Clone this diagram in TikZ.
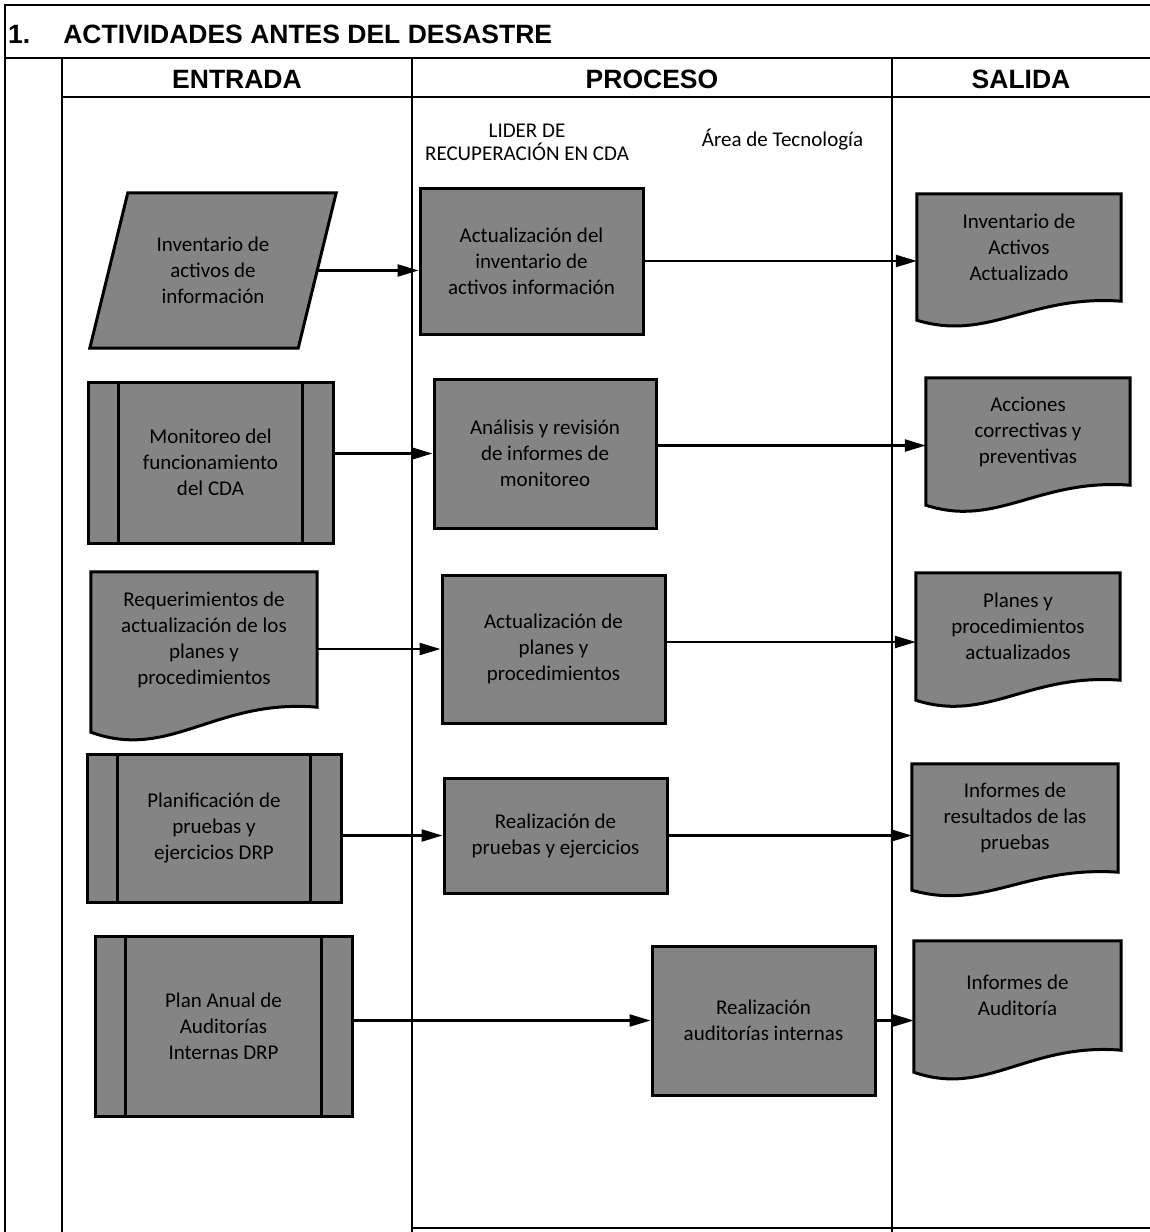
\documentclass[tikz,border=0pt]{standalone}
\usepackage{fontspec}
\setmainfont{Carlito}
\newfontfamily\headfont{Liberation Sans}
\usetikzlibrary{arrows.meta,calc}
\definecolor{shapegray}{RGB}{132,132,132}
\pgfdeclarelayer{back}
\pgfsetlayers{back,main}

\newcommand\boxfont{\fontsize{21}{26}\selectfont}
\newcommand\labelfont{\fontsize{21}{23}\selectfont}
\newcommand\bigheadfont{\headfont\bfseries\fontsize{26.5}{30}\selectfont}

\tikzset{
  frame/.style={line width=1.6pt, black, line cap=rect},
  stepbox/.style={draw, line width=3pt, fill=shapegray, align=center, inner sep=2pt, font=\boxfont},
  plain/.style={draw=none, align=center, inner sep=2pt, font=\boxfont},
  outline/.style={draw, line width=3pt, fill=shapegray, line join=miter},
  sidebar/.style={line width=3pt},
  flow/.style={line width=2.3pt, -{Triangle[length=21pt,width=12pt]}},
  heading/.style={anchor=base, font=\bigheadfont, inner sep=0pt},
}

% document symbol: flat top, wavy bottom; #2 = how far the left corner hangs below the right one
\newcommand\docoutline[2]{%
  \path[outline] (#1.north west) -- (#1.north east) -- (#1.south east)
    .. controls ($(#1.south west)!0.55!(#1.south east)+(0,-0.35*#2)$)
            and ($(#1.south west)!0.35!(#1.south east)+(0,2.15*#2)$)
    .. ($(#1.south west)+(0,#2)$) -- cycle;}

% predefined-process symbol: two inner vertical bars
\newcommand\sidebars[1]{%
  \draw[sidebar] ([xshift=32pt]#1.north west) -- ([xshift=32pt]#1.south west);
  \draw[sidebar] ([xshift=-32pt]#1.north east) -- ([xshift=-32pt]#1.south east);}

\begin{document}
\begin{tikzpicture}[x=1pt, y=-1pt]
\useasboundingbox (0,0) rectangle (1150,1232);

% ---- table frame ----
\begin{pgfonlayer}{back}
  \draw[frame] (5,1232) -- (5,5) -- (1150,5);
  \draw[frame] (5,58) -- (1150,58);
  \draw[frame] (62,97) -- (1150,97);
  \draw[frame] (62,58) -- (62,1232);
  \draw[frame] (412,58) -- (412,1232);
  \draw[frame] (892,58) -- (892,1232);
  \draw[frame] (412,1228) -- (1150,1228);
\end{pgfonlayer}

\node[anchor=base west, font=\bigheadfont, inner sep=0pt] (title) at (8,43)
  {1.\hspace{33pt}ACTIVIDADES ANTES DEL DESASTRE};
\node[heading] (hin) at (237,88) {ENTRADA};
\node[heading] (hproc) at (652,88) {PROCESO};
\node[heading] (hout) at (1021,88) {SALIDA};

\node[font=\labelfont, align=center, inner sep=0pt] (lider) at (527,142.5)
  {LIDER DE\\RECUPERACIÓN EN CDA};
\node[font=\labelfont, inner sep=0pt] (area) at (782.5,140) {Área de Tecnología};

% ---- inputs ----
\node[plain, minimum width=208pt, minimum height=155pt] (in1) at (213,270.5)
  {Inventario de\\activos de\\información};
\node[stepbox, minimum width=245pt, minimum height=161pt] (in2) at (210.5,462.5)
  {Monitoreo del\\funcionamiento\\del CDA};
\node[plain, minimum width=226pt, minimum height=135pt] (in3) at (204,639.5)
  {Requerimientos de\\actualización de los\\planes y\\procedimientos};
\node[stepbox, minimum width=254pt, minimum height=148pt] (in4) at (214,828)
  {Planificación de\\pruebas y\\ejercicios DRP};
\node[stepbox, minimum width=257pt, minimum height=180pt] (in5) at (223.5,1026)
  {Plan Anual de\\Auditorías\\Internas DRP};

% ---- process steps ----
\node[stepbox, minimum width=223pt, minimum height=146pt] (p1) at (531.5,261)
  {Actualización del\\inventario de\\activos información};
\node[stepbox, minimum width=222pt, minimum height=149pt] (p2) at (545,453.5)
  {Análisis y revisión\\de informes de\\monitoreo};
\node[stepbox, minimum width=223pt, minimum height=148pt] (p3) at (553.5,649)
  {Actualización de\\planes y\\procedimientos};
\node[stepbox, minimum width=223pt, minimum height=115pt] (p4) at (555.5,835.5)
  {Realización de\\pruebas y ejercicios};
\node[stepbox, minimum width=223pt, minimum height=149pt] (p5) at (763.5,1020.5)
  {Realización\\auditorías internas};

% ---- outputs ----
\node[plain, minimum width=204pt, minimum height=107pt] (d1) at (1019,247.5)
  {Inventario de\\Activos\\Actualizado};
\node[plain, minimum width=204pt, minimum height=107pt] (d2) at (1028,431.5)
  {Acciones\\correctivas y\\preventivas};
\node[plain, minimum width=204pt, minimum height=107pt] (d3) at (1018,626.5)
  {Planes y\\procedimientos\\actualizados};
\node[plain, minimum width=206pt, minimum height=108pt] (d4) at (1015,818)
  {Informes de\\resultados de las\\pruebas};
\node[plain, minimum width=207pt, minimum height=109pt] (d5) at (1017.5,995.5)
  {Informes de\\Auditoría};

% ---- symbol outlines drawn behind their texts ----
\begin{pgfonlayer}{back}
  \path[outline] ([xshift=-19pt]in1.south west) -- ([xshift=-19pt]in1.south east)
    -- ([xshift=19pt]in1.north east) -- ([xshift=19pt]in1.north west) -- cycle;
  \docoutline{in3}{25}
  \docoutline{d1}{19}
  \docoutline{d2}{20}
  \docoutline{d3}{20}
  \docoutline{d4}{18}
  \docoutline{d5}{22}
\end{pgfonlayer}

\sidebars{in2}
\sidebars{in4}
\sidebars{in5}

% ---- connectors ----
\draw[flow] (in1.east) -- (in1.east -| p1.west);
\draw[flow] (p2.west -| in2.east) -- (p2.west);
\draw[flow] (p3.west -| in3.east) -- (p3.west);
\draw[flow] (p4.west -| in4.east) -- (p4.west);
\draw[flow] (p5.west -| in5.east) -- (p5.west);

\draw[flow] (p1.east) -- (p1.east -| d1.west);
\draw[flow] ([yshift=8pt]p2.east) -- ([yshift=8pt]p2.east -| d2.west);
\draw[flow] ([yshift=7pt]p3.east) -- ([yshift=7pt]p3.east -| d3.west);
\draw[flow] (p4.east) -- (p4.east -| d4.west);
\draw[flow] (p5.east) -- (p5.east -| d5.west);
\end{tikzpicture}
\end{document}
